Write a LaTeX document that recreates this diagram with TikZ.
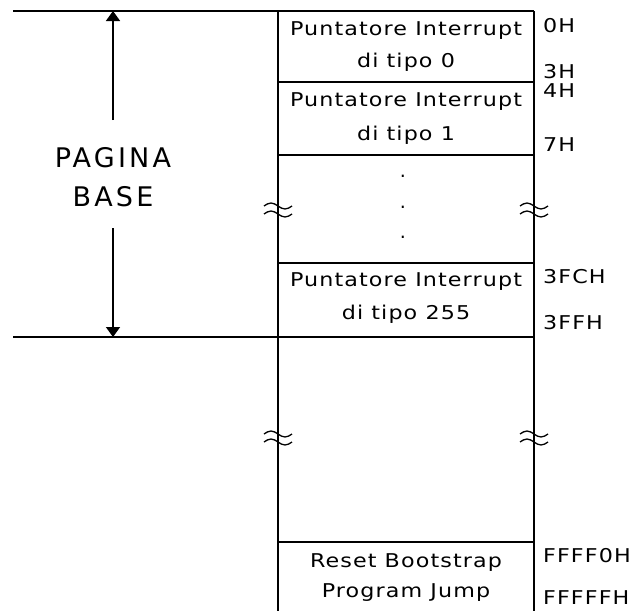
\documentclass[tikz,border=0pt]{standalone}
\usepackage{fontspec}
\setmainfont{DejaVu Sans}
\newfontfamily\boxfont[LetterSpace=5]{DejaVu Sans}
\newfontfamily\bigfont[LetterSpace=12]{DejaVu Sans}
\newcommand{\wideT}[1]{\scalebox{1.17}[1]{#1}}
\usetikzlibrary{arrows.meta}
\tikzset{
  memline/.style={line width=1.6pt, black},
  celltext/.style={font=\boxfont\fontsize{19}{22}\selectfont, inner sep=0pt, anchor=center},
  addr/.style={font=\boxfont\fontsize{19}{22}\selectfont, inner sep=0pt, anchor=west},
  bigtext/.style={font=\bigfont\fontsize{27}{32}\selectfont, inner sep=0pt, anchor=center},
  dimarrow/.style={line width=1.6pt, -{Triangle[width=14pt,length=10pt]}},
  brk/.pic={
    \draw[line width=1.3pt] (-14,-4) sin (-7,-7) cos (0,-4) sin (7,-1) cos (14,-4);
    \draw[line width=1.3pt] (-14,4) sin (-7,1) cos (0,4) sin (7,7) cos (14,4);
  }
}
\begin{document}
\begin{tikzpicture}[x=1pt,y=-1pt]
\useasboundingbox (0,0) rectangle (631,611);
\fill[white] (0,0) rectangle (631,611);
% coordinates
\coordinate (tl) at (13,11);
\coordinate (tr) at (534,11);
\coordinate (bl) at (13,337);
\coordinate (br) at (534,337);
\coordinate (L0) at (278,11);
\coordinate (L1) at (278,611);
\coordinate (R0) at (534,11);
\coordinate (R1) at (534,611);
% frame lines
\draw[memline] (tl) -- (tr);
\draw[memline] (bl) -- (br);
\draw[memline] (L0) -- (L1);
\draw[memline] (R0) -- (R1);
\foreach \yy in {82,155,263,542}{
  \draw[memline] (278,\yy) -- (534,\yy);
}
% break marks
\pic at (278,210) {brk};
\pic at (534,210) {brk};
\pic at (278,438) {brk};
\pic at (534,438) {brk};
% dimension arrow
\coordinate (atop) at (113,11);
\coordinate (abot) at (113,337);
\coordinate (a1) at (113,120);
\coordinate (a2) at (113,228);
\draw[dimarrow] (a1) -- (atop);
\draw[dimarrow] (a2) -- (abot);
\node[bigtext] (pag) at (113,158) {PAGINA};
\node[bigtext] (bas) at (113,197) {BASE};
% cell texts
\node[celltext] (c0a) at (406,31) {\wideT{Puntatore Interrupt}};
\node[celltext] (c0b) at (406,62) {\wideT{di tipo 0}};
\node[celltext] (c1a) at (406,102) {\wideT{Puntatore Interrupt}};
\node[celltext] (c1b) at (406,135) {\wideT{di tipo 1}};
\node[celltext] (d1) at (403,176) {.};
\node[celltext] (d2) at (403,207) {.};
\node[celltext] (d3) at (403,237) {.};
\node[celltext] (c2a) at (406,282) {\wideT{Puntatore Interrupt}};
\node[celltext] (c2b) at (406,314) {\wideT{di tipo 255}};
\node[celltext] (c3a) at (406,563) {\wideT{Reset Bootstrap}};
\node[celltext] (c3b) at (406,593) {\wideT{Program Jump}};
% addresses
\node[addr] (h0) at (543,26) {\wideT{0H}};
\node[addr] (h3) at (543,72) {\wideT{3H}};
\node[addr] (h4) at (543,91) {\wideT{4H}};
\node[addr] (h7) at (543,145) {\wideT{7H}};
\node[addr] (h3fc) at (543,277) {\wideT{3FCH}};
\node[addr] (h3ff) at (543,323) {\wideT{3FFH}};
\node[addr] (hf0) at (543,556) {\wideT{FFFF0H}};
\node[addr] (hff) at (543,598) {\wideT{FFFFFH}};
\end{tikzpicture}
\end{document}
